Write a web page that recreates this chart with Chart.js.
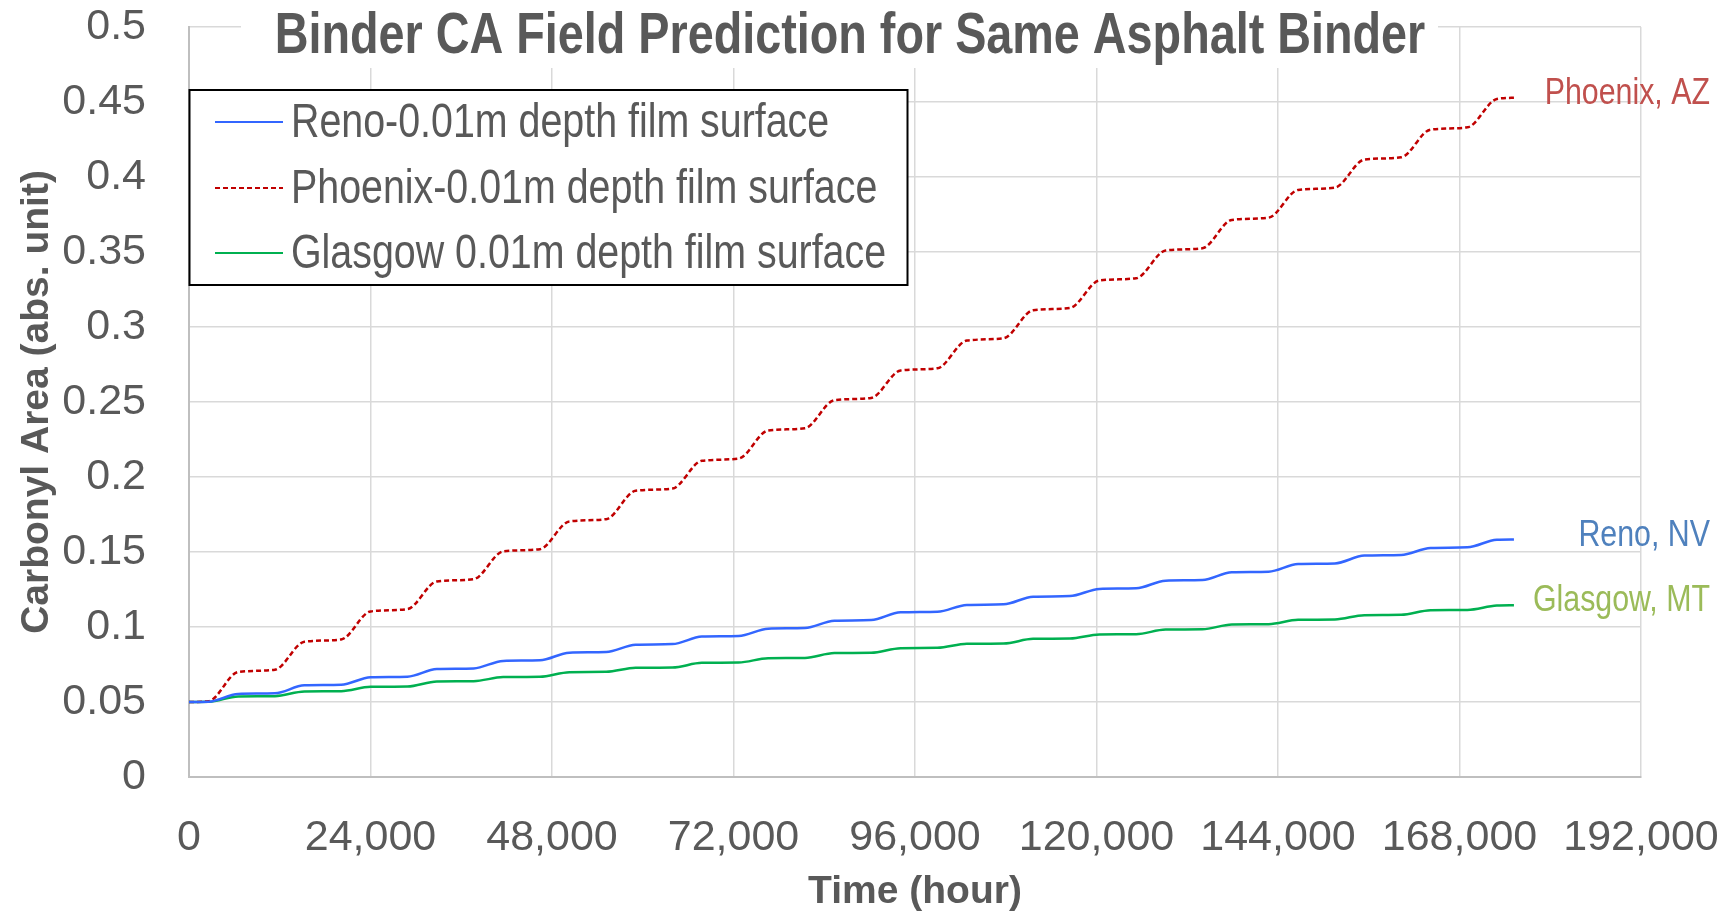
<!DOCTYPE html>
<html>
<head>
<meta charset="utf-8">
<title>Binder CA Field Prediction</title>
<script src="https://cdn.jsdelivr.net/npm/chart.js"></script>
<style>
  html, body { margin: 0; padding: 0; background: #fff; }
  #wrap { width: 1726px; height: 916px; }
</style>
</head>
<body>
<div id="wrap"><canvas id="caChart" width="1726" height="916"></canvas></div>
<script>
// time (hour): start and end of each yearly summer rise
const timeHours = [
  0,
  2600, 6500, 11360, 15260, 20120, 24020, 28880, 32780, 37640, 41540,
  46400, 50300, 55160, 59060, 63920, 67820, 72680, 76580, 81440, 85340,
  90200, 94100, 98960, 102860, 107720, 111620, 116480, 120380, 125240, 129140,
  134000, 137900, 142760, 146660, 151520, 155420, 160280, 164180, 169040, 172940,
  175200
];

// carbonyl area (abs. unit) at those times
const renoCA = [
  0.0500, 0.0502, 0.0554, 0.0558, 0.0611, 0.0615, 0.0665, 0.0669, 0.0720, 0.0724,
  0.0774, 0.0778, 0.0829, 0.0833, 0.0882, 0.0886, 0.0936, 0.0940, 0.0989, 0.0993,
  0.1042, 0.1046, 0.1098, 0.1102, 0.1147, 0.1151, 0.1202, 0.1206, 0.1254, 0.1258,
  0.1309, 0.1313, 0.1365, 0.1369, 0.1420, 0.1424, 0.1476, 0.1480, 0.1527, 0.1531,
  0.1582, 0.1584
];
const phoenixCA = [
  0.0500, 0.0505, 0.0700, 0.0715, 0.0902, 0.0917, 0.1104, 0.1119, 0.1304, 0.1319,
  0.1504, 0.1519, 0.1704, 0.1719, 0.1908, 0.1923, 0.2108, 0.2123, 0.2310, 0.2325,
  0.2512, 0.2527, 0.2710, 0.2725, 0.2910, 0.2925, 0.3112, 0.3127, 0.3310, 0.3325,
  0.3510, 0.3525, 0.3714, 0.3729, 0.3914, 0.3929, 0.4116, 0.4131, 0.4316, 0.4331,
  0.4520, 0.4528
];
const glasgowCA = [
  0.0500, 0.0501, 0.0537, 0.0539, 0.0570, 0.0572, 0.0601, 0.0603, 0.0637, 0.0639,
  0.0666, 0.0668, 0.0699, 0.0701, 0.0728, 0.0730, 0.0761, 0.0763, 0.0792, 0.0794,
  0.0826, 0.0828, 0.0859, 0.0861, 0.0888, 0.0890, 0.0921, 0.0923, 0.0950, 0.0952,
  0.0983, 0.0985, 0.1017, 0.1019, 0.1048, 0.1050, 0.1079, 0.1081, 0.1112, 0.1114,
  0.1143, 0.1145
];

const seriesLabels = [
  "Reno-0.01m depth film surface",
  "Phoenix-0.01m depth film surface",
  "Glasgow 0.01m depth film surface"
];
const siteLabels = ["Reno, NV", "Phoenix, AZ", "Glasgow, MT"];

const xTickValues = [0, 24000, 48000, 72000, 96000, 120000, 144000, 168000, 192000];
const yTickValues = [0, 0.05, 0.1, 0.15, 0.2, 0.25, 0.3, 0.35, 0.4, 0.45, 0.5];

const chartTitle = "Binder CA Field Prediction for Same Asphalt Binder";
const xTitle = "Time (hour)";
const yTitle = "Carbonyl Area (abs. unit)";

const FONT = "'Liberation Sans', Arial, sans-serif";
const TEXT = "#595959";
const NARROW = 0.82; // no narrow face installed, squeeze the regular one

const toPoints = (vals) => vals.map((v, i) => ({ x: timeHours[i], y: v }));

function narrowText(ctx, text, x, y) {
  ctx.save();
  ctx.translate(x, y);
  ctx.scale(NARROW, 1);
  ctx.fillText(text, 0, 0);
  ctx.restore();
}

// title, legend box and site labels drawn on top of the plot
const overlayPlugin = {
  id: "overlay",
  afterDraw(chart) {
    const ctx = chart.ctx;
    const ca = chart.chartArea;
    const yScale = chart.scales.y;

    ctx.save();
    // title sits on a white box over the grid
    ctx.fillStyle = "#fff";
    ctx.fillRect(241, 0, 1197, 68);
    ctx.fillStyle = TEXT;
    ctx.font = "bold 57px " + FONT;
    ctx.textAlign = "center";
    ctx.textBaseline = "alphabetic";
    narrowText(ctx, chartTitle, 850, 53);

    // legend
    const lx = ca.left + 0.5, ly = 90, lw = 718, lh = 195;
    ctx.fillStyle = "#fff";
    ctx.fillRect(lx, ly, lw, lh);
    ctx.strokeStyle = "#000";
    ctx.lineWidth = 2;
    ctx.strokeRect(lx, ly, lw, lh);
    ctx.font = "48px " + FONT;
    ctx.textAlign = "left";
    ctx.textBaseline = "middle";
    const rows = [122, 188, 253];
    chart.data.datasets.forEach((ds, i) => {
      ctx.strokeStyle = ds.borderColor;
      ctx.lineWidth = 2;
      ctx.setLineDash(ds.borderDash || []);
      ctx.beginPath();
      ctx.moveTo(215, rows[i]);
      ctx.lineTo(283, rows[i]);
      ctx.stroke();
      ctx.setLineDash([]);
      ctx.fillStyle = TEXT;
      narrowText(ctx, ds.label, 291, rows[i] + 2);
    });

    // site labels at the end of each line
    const siteColors = ["#4F81BD", "#C0504D", "#9BBB59"];
    ctx.font = "37px " + FONT;
    ctx.textAlign = "right";
    chart.data.datasets.forEach((ds, i) => {
      const last = ds.data[ds.data.length - 1];
      ctx.fillStyle = siteColors[i];
      narrowText(ctx, siteLabels[i], 1710, yScale.getPixelForValue(last.y) - 4);
    });
    ctx.restore();
  }
};

const ctx = document.getElementById("caChart").getContext("2d");
new Chart(ctx, {
  type: "line",
  data: {
    datasets: [
      { label: seriesLabels[0], data: toPoints(renoCA), borderColor: "#3366FF", borderWidth: 2.5 },
      { label: seriesLabels[1], data: toPoints(phoenixCA), borderColor: "#C00000", borderWidth: 2.5, borderDash: [5, 3] },
      { label: seriesLabels[2], data: toPoints(glasgowCA), borderColor: "#00B050", borderWidth: 2.5 }
    ]
  },
  options: {
    responsive: false,
    animation: false,
    devicePixelRatio: 1,
    layout: { padding: { top: 27, right: 85, bottom: 0, left: 0 } },
    elements: {
      point: { radius: 0 },
      line: { cubicInterpolationMode: "monotone", fill: false }
    },
    plugins: {
      legend: { display: false },
      title: { display: false },
      tooltip: { enabled: false }
    },
    scales: {
      x: {
        type: "linear",
        min: 0,
        max: 192000,
        afterBuildTicks: (s) => { s.ticks = xTickValues.map(v => ({ value: v })); },
        afterFit: (s) => {
          s.height = 139;
          s.paddingLeft = 0;
          s.paddingRight = 0;
        },
        grid: { color: "#D9D9D9", lineWidth: 1.5, drawTicks: false },
        border: { color: "#BFBFBF", width: 2 },
        ticks: {
          color: TEXT,
          font: { family: FONT, size: 43, lineHeight: 1 },
          padding: 40,
          maxRotation: 0,
          autoSkip: false,
          callback: (v) => v.toLocaleString("en-US")
        },
        title: {
          display: true,
          text: xTitle,
          color: TEXT,
          font: { family: FONT, size: 39, weight: "bold", lineHeight: 1.2 },
          padding: { top: 0, bottom: 0 }
        }
      },
      y: {
        min: 0,
        max: 0.5,
        afterBuildTicks: (s) => { s.ticks = yTickValues.map(v => ({ value: v })); },
        afterFit: (s) => {
          s.width = 189;
          s.paddingTop = 0;
          s.paddingBottom = 0;
        },
        grid: { color: "#D9D9D9", lineWidth: 1.5, drawTicks: false },
        border: { color: "#BFBFBF", width: 2 },
        ticks: {
          color: TEXT,
          font: { family: FONT, size: 43, lineHeight: 1 },
          padding: 43,
          autoSkip: false,
          callback: (v) => String(Math.round(v * 100) / 100)
        },
        title: {
          display: true,
          text: yTitle,
          color: TEXT,
          font: { family: FONT, size: 39, weight: "bold", lineHeight: 1.2 },
          padding: { top: 14, bottom: 0 }
        }
      }
    }
  },
  plugins: [overlayPlugin]
});
</script>
</body>
</html>
